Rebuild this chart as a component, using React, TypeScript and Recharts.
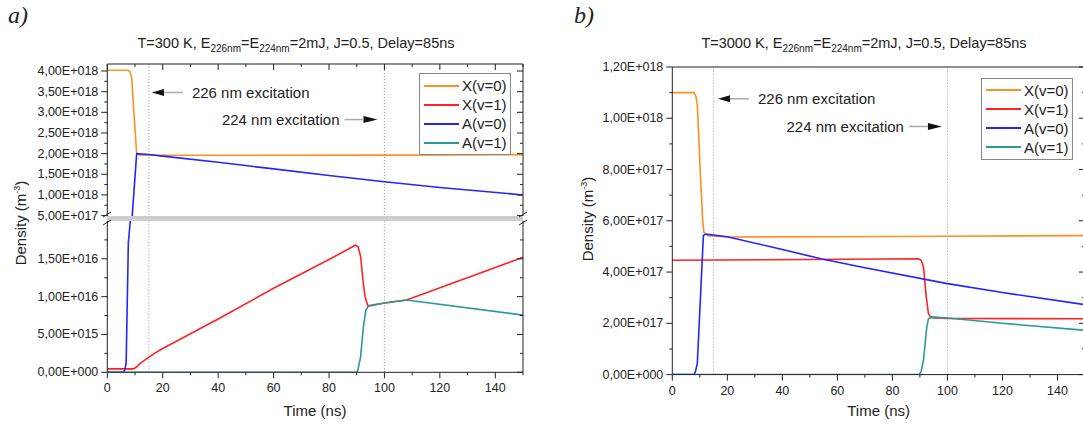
import { LineChart, Line, XAxis, YAxis, ReferenceLine, ReferenceDot } from "recharts";

type Pt = [number, number];

// panel a) T=300 K  (time ns, density m^-3)
const coldX0: Pt[] = [[0, 4.02e18], [7.6, 4.02e18], [8.2, 3.98e18], [8.8, 3.83e18], [9.7, 2.9e18], [10.6, 2.0e18], [11.5, 1.965e18], [15, 1.96e18], [50, 1.96e18], [100, 1.965e18], [150, 1.975e18]];
const coldX1: Pt[] = [[0, 4.5e14], [9.4, 4.5e14], [10.5, 7e14], [12, 1.2e15], [14, 1.75e15], [17, 2.5e15], [20, 3.15e15], [30, 5.1e15], [40, 7.05e15], [60, 1.11e16], [80, 1.49e16], [89.5, 1.68e16], [90.5, 1.66e16], [91.4, 1.53e16], [92.3, 1.2e16], [93, 1.0e16], [94, 8.8e15], [100, 9.15e15], [108, 9.55e15], [150, 1.52e16]];
const coldA0: Pt[] = [[0, 0], [5.8, 0], [6.3, 3e14], [6.8, 1.2e15], [7.6, 1.72e16], [8.3, 2.0e16], [9.0, 5.0e17], [10.6, 2.0e18], [15, 1.98e18], [20, 1.94e18], [40, 1.79e18], [60, 1.63e18], [80, 1.47e18], [100, 1.32e18], [120, 1.18e18], [150, 1.0e18]];
const coldA1: Pt[] = [[0, 0], [90.2, 0], [91.4, 2e15], [92.4, 6e15], [93.3, 8.2e15], [94.2, 8.75e15], [100, 9.15e15], [108, 9.55e15], [150, 7.56e15]];

// panel b) T=3000 K
const hotX0: Pt[] = [[0, 1.1e18], [7.9, 1.1e18], [8.6, 1.085e18], [9.1, 1.05e18], [10.3, 7.6e17], [11.05, 6.0e17], [11.5, 5.55e17], [13, 5.42e17], [20, 5.37e17], [60, 5.38e17], [100, 5.4e17], [150, 5.42e17]];
const hotX1: Pt[] = [[0, 4.46e17], [50, 4.49e17], [89.5, 4.52e17], [90.5, 4.45e17], [91.3, 4.2e17], [92.3, 3.03e17], [93.1, 2.38e17], [94, 2.22e17], [100, 2.19e17], [150, 2.18e17]];
const hotA0: Pt[] = [[0, 0], [7.9, 0], [8.5, 1.5e16], [9.1, 4.5e16], [11.3, 5.43e17], [12.2, 5.48e17], [20, 5.38e17], [40, 4.88e17], [54, 4.52e17], [70, 4.17e17], [100, 3.55e17], [120, 3.2e17], [150, 2.73e17]];
const hotA1: Pt[] = [[0, 0], [89.8, 0], [90.5, 1.5e16], [91.3, 5.6e16], [92.5, 1.86e17], [93.1, 2.18e17], [94.3, 2.25e17], [100, 2.21e17], [120, 2.0e17], [150, 1.73e17]];

const seriesNames = ["X(v=0)", "X(v=1)", "A(v=0)", "A(v=1)"];
const seriesColors = ["#ff8f1f", "#ff2222", "#2424ff", "#2a9a97"];

const timeMajor = [0, 20, 40, 60, 80, 100, 120, 140];
const timeMinor = [10, 30, 50, 70, 90, 110, 130, 150];
const coldUpperMajor = [5e17, 1e18, 1.5e18, 2e18, 2.5e18, 3e18, 3.5e18, 4e18];
const coldUpperMinor = [7.5e17, 1.25e18, 1.75e18, 2.25e18, 2.75e18, 3.25e18, 3.75e18];
const coldLowerMajor = [0, 5e15, 1e16, 1.5e16];
const coldLowerMinor = [2.5e15, 7.5e15, 1.25e16, 1.75e16];
const hotMajor = [0, 2e17, 4e17, 6e17, 8e17, 1e18, 1.2e18];
const hotMinor = [1e17, 3e17, 5e17, 7e17, 9e17, 1.1e18];

const excitationTimes = [15, 100];

const FONT = "'Liberation Sans', Arial, sans-serif";
const INK = "#222";

const rows = (pts: Pt[]) => pts.map(([t, n]) => ({ t, n }));
const merge = (a: number[], b: number[]) => [...a, ...b].sort((p, q) => p - q);

function sci(v: number) {
  if (v === 0) return "0,00E+000";
  const [m, e] = v.toExponential(2).split("e");
  const exp = parseInt(e, 10);
  return `${m.replace(".", ",")}E${exp < 0 ? "-" : "+"}${String(Math.abs(exp)).padStart(3, "0")}`;
}

function isMajor(v: number, majors: number[]) {
  return majors.some((m) => Math.abs(m - v) <= Math.abs(m) * 1e-9 + 1e-9);
}

// tick renderer: draws its own tick mark (major/minor) and optional label
function makeTick(side: "left" | "right" | "top" | "bottom", majors: number[], fmt?: (v: number) => string) {
  return (p: any) => {
    const { x, y } = p;
    const v = p.payload.value;
    const major = isMajor(v, majors);
    const len = major ? 6 : 3;
    if (side === "bottom") {
      return (
        <g>
          <line x1={x} x2={x} y1={y} y2={y + len} stroke={INK} />
          {fmt && major && (
            <text x={x} y={y + 16} textAnchor="middle" dominantBaseline="central" fontSize={12.5} fill={INK} fontFamily={FONT}>{fmt(v)}</text>
          )}
        </g>
      );
    }
    if (side === "left") {
      return (
        <g>
          <line x1={x - len} x2={x} y1={y} y2={y} stroke={INK} />
          {fmt && major && (
            <text x={x - 9} y={y} textAnchor="end" dominantBaseline="central" fontSize={12.5} fill={INK} fontFamily={FONT}>{fmt(v)}</text>
          )}
        </g>
      );
    }
    if (side === "top") return <line x1={x} x2={x} y1={y} y2={y + len} stroke={INK} />;
    return <line x1={x - len} x2={x} y1={y} y2={y} stroke={INK} />;
  };
}

function arrowNote(dir: "left" | "right", text: string) {
  return (p: any) => {
    const { cx, cy } = p;
    if (dir === "left") {
      return (
        <g>
          <polygon points={`${cx},${cy} ${cx + 12},${cy - 3.5} ${cx + 12},${cy + 3.5}`} fill="#111" />
          <line x1={cx + 12} x2={cx + 31} y1={cy} y2={cy} stroke="#aaa" strokeWidth={1.5} />
          <text x={cx + 40} y={cy} dominantBaseline="central" fontSize={15} fill={INK} fontFamily={FONT}>{text}</text>
        </g>
      );
    }
    return (
      <g>
        <polygon points={`${cx},${cy} ${cx - 14},${cy - 3.5} ${cx - 14},${cy + 3.5}`} fill="#111" />
        <line x1={cx - 14} x2={cx - 33} y1={cy} y2={cy} stroke="#aaa" strokeWidth={1.5} />
        <text x={cx - 38} y={cy} textAnchor="end" dominantBaseline="central" fontSize={15} fill={INK} fontFamily={FONT}>{text}</text>
      </g>
    );
  };
}

function seriesLines(sets: Pt[][]) {
  return sets.map((pts, i) => (
    <Line
      key={seriesNames[i]}
      data={rows(pts)}
      dataKey="n"
      name={seriesNames[i]}
      type="linear"
      stroke={seriesColors[i]}
      strokeWidth={1.6}
      dot={false}
      activeDot={false}
      isAnimationActive={false}
    />
  ));
}

function refLines() {
  return excitationTimes.map((t) => (
    <ReferenceLine key={t} x={t} stroke="#999" strokeDasharray="1 2" strokeWidth={1} />
  ));
}

function LegendBox({ left, top }: { left: number; top: number }) {
  return (
    <div style={{ position: "absolute", left, top, width: 90, border: "1px solid #888", background: "#fff", padding: "2px 0", fontSize: 15, lineHeight: "19px" }}>
      {seriesNames.map((n, i) => (
        <div key={n} style={{ display: "flex", alignItems: "center" }}>
          <span style={{ display: "inline-block", width: 35, height: 2, background: seriesColors[i], marginLeft: 4, marginRight: 3 }} />
          <span>{n}</span>
        </div>
      ))}
    </div>
  );
}

function Title({ cx, temp }: { cx: number; temp: string }) {
  const sub = { fontSize: 10, verticalAlign: "-4px", lineHeight: 0 };
  return (
    <div style={{ position: "absolute", left: cx - 200, top: 35, width: 400, textAlign: "center", fontSize: 14.5, lineHeight: "17px", whiteSpace: "nowrap" }}>
      T={temp} K, E<span style={sub}>226nm</span>=E<span style={sub}>224nm</span>=2mJ, J=0.5, Delay=85ns
    </div>
  );
}

function YLabel({ cx, cy }: { cx: number; cy: number }) {
  return (
    <div style={{ position: "absolute", left: cx, top: cy, width: 0, height: 0 }}>
      <div style={{ position: "absolute", transform: "translate(-50%, -50%) rotate(-90deg)", fontSize: 15, whiteSpace: "nowrap", lineHeight: "18px" }}>
        Density (m<sup style={{ fontSize: 9, lineHeight: 0 }}>-3</sup>)
      </div>
    </div>
  );
}

function XLabel({ cx }: { cx: number }) {
  return (
    <div style={{ position: "absolute", left: cx - 60, top: 402, width: 120, textAlign: "center", fontSize: 15, lineHeight: "18px" }}>
      Time (ns)
    </div>
  );
}

const coldSets = [coldX0, coldX1, coldA0, coldA1];
const hotSets = [hotX0, hotX1, hotA0, hotA1];
const timeTicks = merge(timeMajor, timeMinor);

export default function App() {
  const upperTicks = merge(coldUpperMajor, coldUpperMinor);
  const lowerTicks = merge(coldLowerMajor, coldLowerMinor);
  const hotTicks = merge(hotMajor, hotMinor);
  const upperDomain = [4.9e17, 4.17e18];
  const lowerDomain = [0, 2.0e16];
  const hotDomain = [0, 1.2e18];

  return (
    <div style={{ position: "relative", width: 1083, height: 427, overflow: "hidden", background: "#fff", fontFamily: FONT, color: INK }}>
      <style>{`body{margin:0}`}</style>

      <div style={{ position: "absolute", left: 8, top: 2, fontFamily: "'Liberation Serif', serif", fontStyle: "italic", fontSize: 24 }}>a)</div>
      <div style={{ position: "absolute", left: 574, top: 2, fontFamily: "'Liberation Serif', serif", fontStyle: "italic", fontSize: 24 }}>b)</div>

      <Title cx={296} temp="300" />
      <Title cx={864} temp="3000" />

      {/* panel a, upper part of the broken axis */}
      <div style={{ position: "absolute", left: 0, top: 60 }}>
        <LineChart width={540} height={164} margin={{ top: 3, right: 16, bottom: 8, left: 0 }}>
          <XAxis type="number" dataKey="t" orientation="top" domain={[0, 150]} ticks={timeTicks} interval={0} height={1} tickSize={0} tickMargin={0} tickLine={false} tick={makeTick("top", timeMajor)} stroke={INK} />
          <YAxis type="number" domain={upperDomain} allowDataOverflow ticks={upperTicks} interval={0} width={107.3} tickSize={0} tickMargin={0} tickLine={false} tick={makeTick("left", coldUpperMajor, sci)} stroke={INK} />
          <YAxis yAxisId="r" orientation="right" type="number" domain={upperDomain} allowDataOverflow ticks={upperTicks} interval={0} width={1} tickSize={0} tickMargin={0} tickLine={false} tick={makeTick("right", coldUpperMajor)} stroke={INK} />
          {refLines()}
          {seriesLines(coldSets)}
          <ReferenceDot x={16.1} y={3.48e18} shape={arrowNote("left", "226 nm excitation")} />
          <ReferenceDot x={97.5} y={2.825e18} shape={arrowNote("right", "224 nm excitation")} />
        </LineChart>
      </div>

      {/* panel a, lower part */}
      <div style={{ position: "absolute", left: 0, top: 217 }}>
        <LineChart width={540} height={185.3} margin={{ top: 4, right: 16, bottom: 0, left: 0 }}>
          <XAxis type="number" dataKey="t" domain={[0, 150]} ticks={timeTicks} interval={0} height={30} tickSize={0} tickMargin={0} tickLine={false} tick={makeTick("bottom", timeMajor, String)} stroke={INK} />
          <YAxis type="number" domain={lowerDomain} allowDataOverflow ticks={lowerTicks} interval={0} width={107.3} tickSize={0} tickMargin={0} tickLine={false} tick={makeTick("left", coldLowerMajor, sci)} stroke={INK} />
          <YAxis yAxisId="r" orientation="right" type="number" domain={lowerDomain} allowDataOverflow ticks={lowerTicks} interval={0} width={1} tickSize={0} tickMargin={0} tickLine={false} tick={makeTick("right", coldLowerMajor)} stroke={INK} />
          {refLines()}
          {seriesLines(coldSets)}
        </LineChart>
      </div>

      {/* axis break band */}
      <div style={{ position: "absolute", left: 107.3, top: 216, width: 416, height: 5, background: "#cdcdcd" }} />
      <svg style={{ position: "absolute", left: 0, top: 0 }} width={1083} height={427}>
        <line x1={103} y1={217} x2={111} y2={212} stroke={INK} />
        <line x1={103} y1={225} x2={111} y2={220} stroke={INK} />
        <line x1={519} y1={217} x2={527} y2={212} stroke={INK} />
        <line x1={519} y1={225} x2={527} y2={220} stroke={INK} />
      </svg>

      {/* panel b */}
      <div style={{ position: "absolute", left: 560, top: 56.7 }}>
        <LineChart width={535} height={347.6} margin={{ top: 9, right: 9, bottom: 0, left: 0 }}>
          <XAxis type="number" dataKey="t" domain={[0, 150]} ticks={timeTicks} interval={0} height={30} tickSize={0} tickMargin={0} tickLine={false} tick={makeTick("bottom", timeMajor, String)} stroke={INK} />
          <XAxis xAxisId="top" type="number" orientation="top" domain={[0, 150]} ticks={timeTicks} interval={0} height={1} tickSize={0} tickMargin={0} tickLine={false} tick={makeTick("top", timeMajor)} stroke={INK} />
          <YAxis type="number" domain={hotDomain} allowDataOverflow ticks={hotTicks} interval={0} width={112.3} tickSize={0} tickMargin={0} tickLine={false} tick={makeTick("left", hotMajor, sci)} stroke={INK} />
          <YAxis yAxisId="r" orientation="right" type="number" domain={hotDomain} allowDataOverflow ticks={hotTicks} interval={0} width={1} tickSize={0} tickMargin={0} tickLine={false} tick={makeTick("right", hotMajor)} stroke={INK} />
          {refLines()}
          {seriesLines(hotSets)}
          <ReferenceDot x={16.6} y={1.076e18} shape={arrowNote("left", "226 nm excitation")} />
          <ReferenceDot x={98} y={9.68e17} shape={arrowNote("right", "224 nm excitation")} />
        </LineChart>
      </div>

      <LegendBox left={419} top={73} />
      <LegendBox left={981} top={77.5} />

      <YLabel cx={21} cy={223} />
      <YLabel cx={588} cy={219} />
      <XLabel cx={315} />
      <XLabel cx={878.6} />
    </div>
  );
}
